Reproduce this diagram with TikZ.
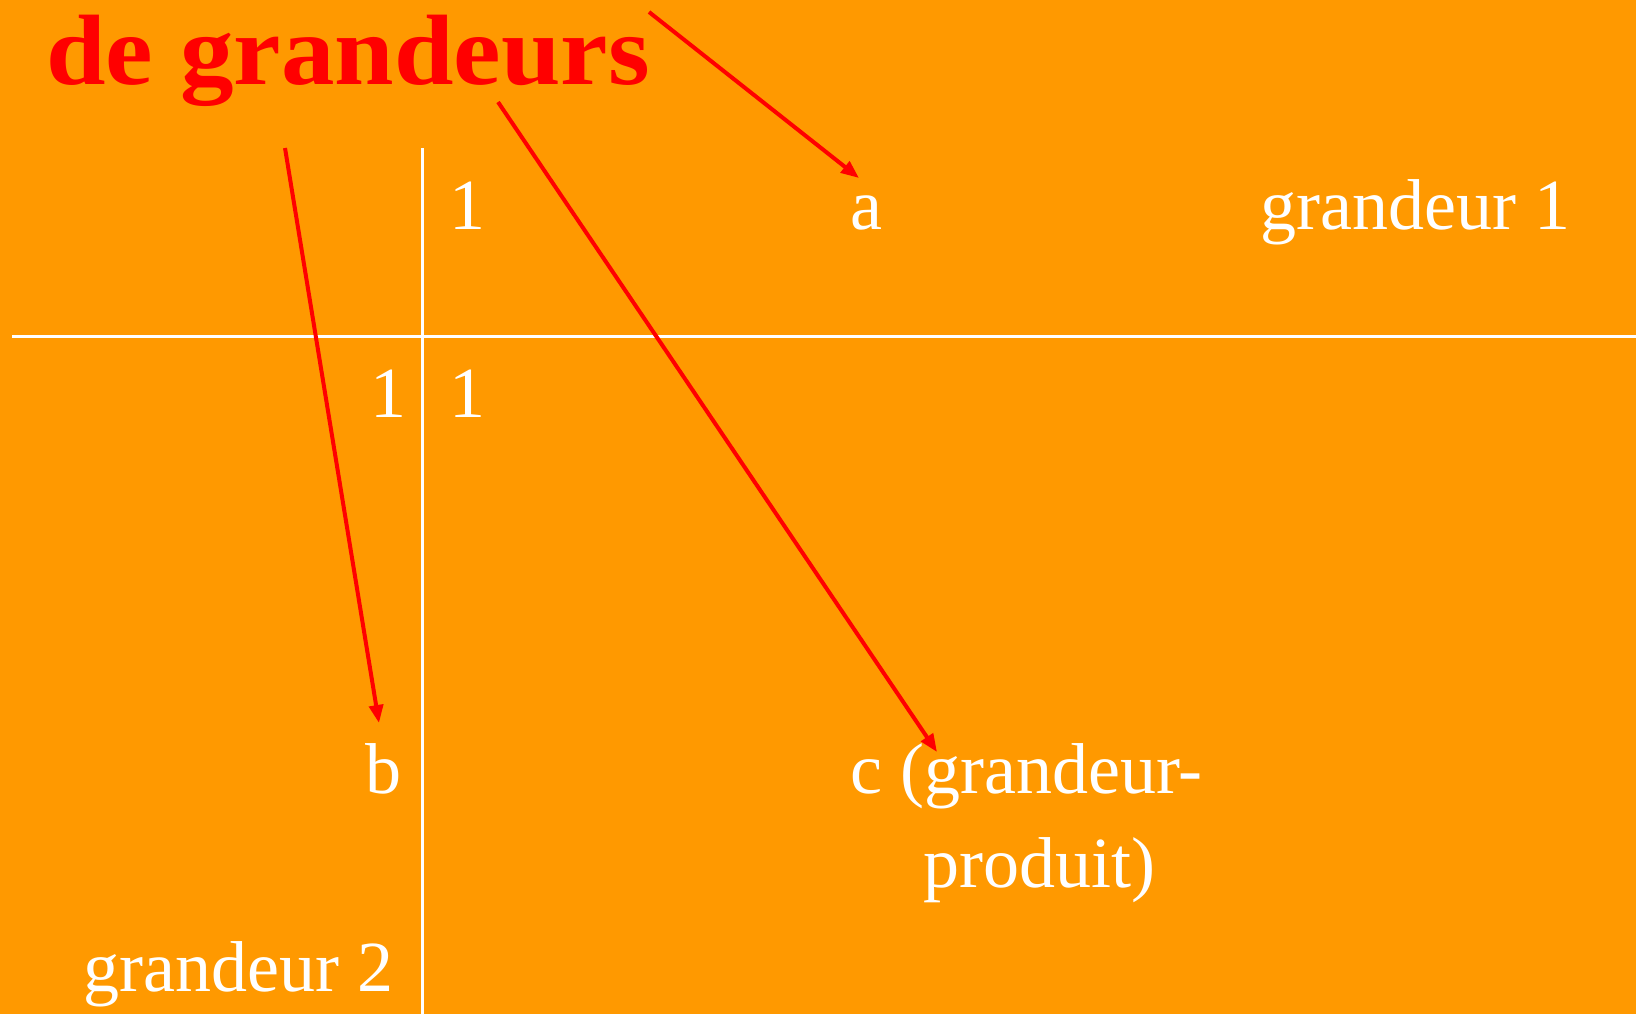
\documentclass[tikz,border=0pt]{standalone}
\usepackage{fontspec}
\setmainfont{Liberation Serif}
\usepackage{tikz}
\usetikzlibrary{arrows.meta,positioning,calc}
\definecolor{bgorange}{HTML}{FF9900}
\definecolor{titlered}{HTML}{FF0000}

\begin{document}
\begin{tikzpicture}[
    x=0.5pt, y=-0.5pt,
    cell/.style={anchor=base west, inner sep=0pt, text=white, font=\fontsize{36}{42}\selectfont},
    title/.style={anchor=base west, inner sep=0pt, text=titlered, xscale=1.07, font=\fontsize{50}{60}\selectfont\bfseries},
    grid/.style={white, line width=1.5pt},
    arrow/.style={-{Triangle[length=9pt, width=7pt]}, titlered, line width=2pt},
  ]
    \fill[bgorange] (0,0) rectangle (1636,1014);
    \useasboundingbox (0,0) rectangle (1636,1014);

    \node[title] (titre) at (46,84) {de grandeurs};

    % table
    \coordinate (vtop) at (422,148);
    \coordinate (vbot) at (422,1014);
    \coordinate (hleft) at (12,336);
    \coordinate (hright) at (1636,336);
    \draw[grid] (vtop) -- (vbot);
    \draw[grid] (hleft) -- (hright);

    \node[cell] (un1) at (449,229) {1};
    \node[cell] (a) at (850,229) {a};
    \node[cell] (g1) at (1260,229) {grandeur 1};
    \node[cell] (un2) at (370,417) {1};
    \node[cell] (un3) at (449,417) {1};
    \node[cell] (b) at (365,793) {b};
    \node[cell] (c) at (850,793) {c (grandeur-};
    \node[cell] (prod) at (923,887) {produit)};
    \node[cell] (g2) at (83,991) {grandeur 2};

    % arrows
    \coordinate (s1) at (649,12);
    \coordinate (e1) at (859,178);
    \coordinate (s2) at (285,148);
    \coordinate (e2) at (379,723);
    \coordinate (s3) at (498,102);
    \coordinate (e3) at (937,752);
    \draw[arrow] (s1) -- (e1);
    \draw[arrow] (s2) -- (e2);
    \draw[arrow] (s3) -- (e3);
  \end{tikzpicture}
\end{document}
